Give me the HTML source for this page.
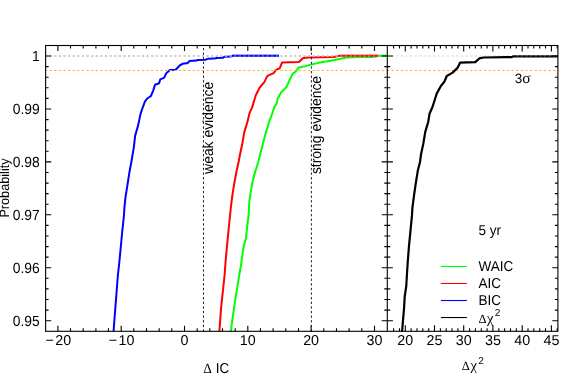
<!DOCTYPE html>
<html><head><meta charset="utf-8"><title>plot</title>
<style>
html,body{margin:0;padding:0;background:#fff;}
svg{display:block;will-change:transform;}
text{font-family:"Liberation Sans",sans-serif;font-size:13.5px;fill:#000;text-rendering:geometricPrecision;}
.tl{font-size:14.3px;}
.yl{font-size:14.6px;}
.an{font-size:14.8px;}
.lg{font-size:14.3px;}
.sym{font-family:"Liberation Serif","DejaVu Serif",serif;}
</style></head><body>
<svg width="581" height="388" viewBox="0 0 581 388">
<rect width="581" height="388" fill="#fff"/>
<polyline points="230.9,331.3 232.1,321.4 233.7,310.6 235.5,298.2 237.5,285.8 239.3,274.8 240.9,266.0 242.1,256.8 243.7,245.9 246.0,238.2 247.1,227.4 248.6,215.0 249.3,201.8 250.9,190.9 252.9,180.1 255.5,170.8 258.3,162.0 259.8,156.0 262.9,143.7 266.0,132.1 269.1,122.0 272.3,113.5 274.4,106.8 276.7,103.7 277.5,99.1 281.3,92.1 286.7,86.7 289.8,79.7 292.6,73.9 296.0,71.2 298.4,67.8 305.3,66.1 312.2,64.4 317.4,63.1 324.3,61.8 332.0,60.4 340.6,58.7 346.6,57.5 358.7,57.1 372.5,57.0 379.3,55.8 387.3,55.8" fill="none" stroke="#00ff00" stroke-width="2.0" stroke-linejoin="round"/>
<polyline points="219.4,331.3 220.1,321.4 221.0,309.0 222.1,298.2 223.3,287.4 224.6,275.0 225.6,261.4 227.0,245.9 228.5,230.5 230.1,215.0 230.8,207.9 232.3,195.6 234.3,183.2 236.6,170.8 238.6,162.0 239.7,156.0 242.3,143.7 244.3,132.1 247.4,122.0 249.5,113.2 252.0,107.6 255.8,95.2 259.7,87.5 264.3,82.1 267.4,75.9 273.6,73.2 275.9,70.2 279.8,68.1 282.1,62.4 298.3,62.0 299.3,61.8 302.7,58.3 307.9,57.5 333.7,57.0 339.4,55.8 378.5,55.8" fill="none" stroke="#ff0000" stroke-width="2.0" stroke-linejoin="round"/>
<polyline points="113.6,331.3 114.4,319.8 115.5,305.9 116.7,290.5 117.9,275.0 119.1,264.5 120.6,249.0 122.2,232.0 124.0,215.0 124.4,207.9 125.5,197.1 127.5,184.7 129.4,172.4 131.7,160.0 133.9,146.8 135.1,135.9 138.2,125.1 140.4,114.4 142.4,108.3 145.0,101.4 147.0,98.8 150.9,96.0 153.2,90.6 155.0,84.7 159.1,83.3 160.2,79.4 164.0,77.9 166.3,73.2 169.9,70.0 175.6,69.7 180.3,65.0 182.6,63.8 186.4,63.2 187.6,63.2 189.6,60.9 196.4,60.6 197.9,59.9 205.7,59.7 207.7,58.8 214.4,58.6 216.5,58.0 222.7,57.8 224.3,56.8 230.5,56.6 232.5,55.8 279.0,55.8" fill="none" stroke="#0000ff" stroke-width="2.0" stroke-linejoin="round"/>
<line x1="44.95" y1="56.0" x2="387.3" y2="56.0" stroke="#c0c0c0" stroke-width="1.3" stroke-dasharray="2.3 2.314"/>
<line x1="387.0" y1="56.0" x2="557.9" y2="56.0" stroke="#d4d4d4" stroke-width="1.2" stroke-dasharray="2.3 2.314"/>
<line x1="44.95" y1="70.5" x2="387.3" y2="70.5" stroke="#ffb431" stroke-width="1.05" stroke-dasharray="2.3 2.314"/>
<line x1="387.0" y1="70.5" x2="557.9" y2="70.5" stroke="#ffb431" stroke-width="1.05" stroke-dasharray="2.3 2.314"/>
<polyline points="402.1,331.3 402.9,321.4 404.0,309.0 404.7,296.6 406.3,285.8 406.9,275.0 407.9,259.8 409.0,245.9 410.5,230.5 412.0,215.0 412.4,207.9 414.0,195.6 415.8,183.2 417.8,170.8 420.0,162.0 421.0,154.5 423.3,143.7 425.2,132.1 428.2,122.0 429.6,113.5 432.5,107.0 436.7,93.6 440.9,86.0 444.3,81.8 446.8,76.0 452.6,72.6 457.7,67.6 460.2,62.6 475.3,62.1 479.4,58.4 483.6,57.5 506.0,57.2 511.9,57.1 513.4,56.3 557.9,56.3" fill="none" stroke="#000" stroke-width="2.2" stroke-linejoin="round"/>
<line x1="513.4" y1="55.9" x2="557.9" y2="55.9" stroke="#d0d0d0" stroke-width="1.0" opacity="0.45" stroke-dasharray="2.3 2.314" stroke-dashoffset="1.795"/>
<line x1="232.5" y1="55.75" x2="279" y2="55.75" stroke="#0000ff" stroke-width="2" opacity="0.5"/>
<line x1="339.4" y1="55.75" x2="378.5" y2="55.75" stroke="#ff0000" stroke-width="2" opacity="0.45"/>
<line x1="378.5" y1="55.75" x2="387.3" y2="55.75" stroke="#00ff00" stroke-width="2" opacity="0.5"/>
<line x1="203.5" y1="45.5" x2="203.5" y2="331.3" stroke="#222" stroke-width="1" stroke-dasharray="2.35 2.264" stroke-dashoffset="2.23"/>
<line x1="311.4" y1="45.5" x2="311.4" y2="331.3" stroke="#222" stroke-width="1" stroke-dasharray="2.35 2.264" stroke-dashoffset="2.23"/>
<g stroke="#000" stroke-width="1.1" fill="none">
<rect x="45.6" y="45.5" width="512.3" height="285.8"/>
<line x1="387.3" y1="45.5" x2="387.3" y2="331.3"/>
<path d="M57.9,331.3v-5.6M57.9,45.5v5.6M70.5,331.3v-3M70.5,45.5v3M83.2,331.3v-3M83.2,45.5v3M95.9,331.3v-3M95.9,45.5v3M108.5,331.3v-3M108.5,45.5v3M121.2,331.3v-5.6M121.2,45.5v5.6M133.8,331.3v-3M133.8,45.5v3M146.5,331.3v-3M146.5,45.5v3M159.2,331.3v-3M159.2,45.5v3M171.8,331.3v-3M171.8,45.5v3M184.5,331.3v-5.6M184.5,45.5v5.6M197.2,331.3v-3M197.2,45.5v3M209.8,331.3v-3M209.8,45.5v3M222.5,331.3v-3M222.5,45.5v3M235.2,331.3v-3M235.2,45.5v3M247.8,331.3v-5.6M247.8,45.5v5.6M260.5,331.3v-3M260.5,45.5v3M273.1,331.3v-3M273.1,45.5v3M285.8,331.3v-3M285.8,45.5v3M298.5,331.3v-3M298.5,45.5v3M311.1,331.3v-5.6M311.1,45.5v5.6M323.8,331.3v-3M323.8,45.5v3M336.5,331.3v-3M336.5,45.5v3M349.1,331.3v-3M349.1,45.5v3M361.8,331.3v-3M361.8,45.5v3M374.5,331.3v-5.6M374.5,45.5v5.6M393.6,331.3v-3.1M393.6,45.5v3.1M399.5,331.3v-3.1M399.5,45.5v3.1M405.3,331.3v-6.1M405.3,45.5v6.1M411.1,331.3v-3.1M411.1,45.5v3.1M417.0,331.3v-3.1M417.0,45.5v3.1M422.8,331.3v-3.1M422.8,45.5v3.1M428.7,331.3v-3.1M428.7,45.5v3.1M434.5,331.3v-6.1M434.5,45.5v6.1M440.4,331.3v-3.1M440.4,45.5v3.1M446.2,331.3v-3.1M446.2,45.5v3.1M452.0,331.3v-3.1M452.0,45.5v3.1M457.9,331.3v-3.1M457.9,45.5v3.1M463.7,331.3v-6.1M463.7,45.5v6.1M469.6,331.3v-3.1M469.6,45.5v3.1M475.4,331.3v-3.1M475.4,45.5v3.1M481.3,331.3v-3.1M481.3,45.5v3.1M487.1,331.3v-3.1M487.1,45.5v3.1M492.9,331.3v-6.1M492.9,45.5v6.1M498.8,331.3v-3.1M498.8,45.5v3.1M504.6,331.3v-3.1M504.6,45.5v3.1M510.5,331.3v-3.1M510.5,45.5v3.1M516.3,331.3v-3.1M516.3,45.5v3.1M522.2,331.3v-6.1M522.2,45.5v6.1M528.0,331.3v-3.1M528.0,45.5v3.1M533.8,331.3v-3.1M533.8,45.5v3.1M539.7,331.3v-3.1M539.7,45.5v3.1M545.5,331.3v-3.1M545.5,45.5v3.1M551.4,331.3v-6.1M551.4,45.5v6.1M557.2,331.3v-3.1M557.2,45.5v3.1M45.6,320.7h5.6M381.7,320.7h11.2M557.9,320.7h-5.6M45.6,310.1h3M384.3,310.1h6M557.9,310.1h-3M45.6,299.5h3M384.3,299.5h6M557.9,299.5h-3M45.6,288.9h3M384.3,288.9h6M557.9,288.9h-3M45.6,278.3h3M384.3,278.3h6M557.9,278.3h-3M45.6,267.7h5.6M381.7,267.7h11.2M557.9,267.7h-5.6M45.6,257.1h3M384.3,257.1h6M557.9,257.1h-3M45.6,246.6h3M384.3,246.6h6M557.9,246.6h-3M45.6,236.0h3M384.3,236.0h6M557.9,236.0h-3M45.6,225.4h3M384.3,225.4h6M557.9,225.4h-3M45.6,214.8h5.6M381.7,214.8h11.2M557.9,214.8h-5.6M45.6,204.2h3M384.3,204.2h6M557.9,204.2h-3M45.6,193.6h3M384.3,193.6h6M557.9,193.6h-3M45.6,183.1h3M384.3,183.1h6M557.9,183.1h-3M45.6,172.5h3M384.3,172.5h6M557.9,172.5h-3M45.6,161.9h5.6M381.7,161.9h11.2M557.9,161.9h-5.6M45.6,151.3h3M384.3,151.3h6M557.9,151.3h-3M45.6,140.7h3M384.3,140.7h6M557.9,140.7h-3M45.6,130.1h3M384.3,130.1h6M557.9,130.1h-3M45.6,119.6h3M384.3,119.6h6M557.9,119.6h-3M45.6,109.0h5.6M381.7,109.0h11.2M557.9,109.0h-5.6M45.6,98.4h3M384.3,98.4h6M557.9,98.4h-3M45.6,87.8h3M384.3,87.8h6M557.9,87.8h-3M45.6,77.2h3M384.3,77.2h6M557.9,77.2h-3M45.6,66.6h3M384.3,66.6h6M557.9,66.6h-3M45.6,56.0h5.6M381.7,56.0h11.2M557.9,56.0h-5.6"/>
</g>
<text class="tl" x="58.3" y="345.35" text-anchor="middle">−<tspan dx="1.5">20</tspan></text>
<text class="tl" x="121.6" y="345.35" text-anchor="middle">−<tspan dx="1.5">10</tspan></text>
<text class="tl" x="184.5" y="345.35" text-anchor="middle">0</text>
<text class="tl" x="247.8" y="345.35" text-anchor="middle">10</text>
<text class="tl" x="311.1" y="345.35" text-anchor="middle">20</text>
<text class="tl" x="374.5" y="345.35" text-anchor="middle">30</text>
<text class="tl" x="405.3" y="345.35" text-anchor="middle">20</text>
<text class="tl" x="434.5" y="345.35" text-anchor="middle">25</text>
<text class="tl" x="463.7" y="345.35" text-anchor="middle">30</text>
<text class="tl" x="492.9" y="345.35" text-anchor="middle">35</text>
<text class="tl" x="522.2" y="345.35" text-anchor="middle">40</text>
<text class="tl" x="551.4" y="345.35" text-anchor="middle">45</text>
<text class="yl" transform="translate(39.7,61.2) scale(0.95,1)" text-anchor="end">1</text>
<text class="yl" transform="translate(39.7,114.2) scale(0.95,1)" text-anchor="end">0.99</text>
<text class="yl" transform="translate(39.7,167.1) scale(0.95,1)" text-anchor="end">0.98</text>
<text class="yl" transform="translate(39.7,220.0) scale(0.95,1)" text-anchor="end">0.97</text>
<text class="yl" transform="translate(39.7,272.9) scale(0.95,1)" text-anchor="end">0.96</text>
<text class="yl" transform="translate(39.7,325.9) scale(0.95,1)" text-anchor="end">0.95</text>
<text class="lg" transform="translate(216.3,373.1) scale(0.945,1)" text-anchor="middle"><tspan class="sym" font-size="14.2">Δ</tspan> IC</text>
<text x="461.8" y="370.4"><tspan class="sym" font-size="12.6">Δ</tspan><tspan class="sym" dx="0.6" font-size="14.5">χ</tspan><tspan dx="1.3" dy="-6.9" font-size="10">2</tspan></text>
<text transform="translate(9.3,188) rotate(-90) scale(0.94,1)" text-anchor="middle" font-size="14.4">Probability</text>
<text class="an" transform="translate(212.8,173.9) rotate(-90) scale(0.94,1)">weak evidence</text>
<text class="an" transform="translate(321.1,174.1) rotate(-90) scale(0.94,1)">strong evidence</text>
<text x="514.7" y="82.7">3<tspan class="sym" font-size="15.5">σ</tspan></text>
<text class="lg" transform="translate(478.5,235.4) scale(0.945,1)">5 yr</text>
<line x1="440.9" y1="266.45" x2="466.9" y2="266.45" stroke="#00ff00" stroke-width="1.1"/>
<text class="lg" transform="translate(478.5,271.3) scale(0.945,1)">WAIC</text>
<line x1="440.9" y1="283.48" x2="466.9" y2="283.48" stroke="#ff0000" stroke-width="1.1"/>
<text class="lg" transform="translate(478.5,288.3) scale(0.945,1)">AIC</text>
<line x1="440.9" y1="300.51" x2="466.9" y2="300.51" stroke="#0000ff" stroke-width="1.1"/>
<text class="lg" transform="translate(478.5,305.4) scale(0.945,1)">BIC</text>
<line x1="440.9" y1="317.54" x2="466.9" y2="317.54" stroke="#000" stroke-width="1.1"/>
<text x="478.4" y="322.6"><tspan class="sym" font-size="12.6">Δ</tspan><tspan class="sym" dx="0.6" font-size="14.5">χ</tspan><tspan dx="1.3" dy="-6.3" font-size="10">2</tspan></text>
</svg></body></html>
